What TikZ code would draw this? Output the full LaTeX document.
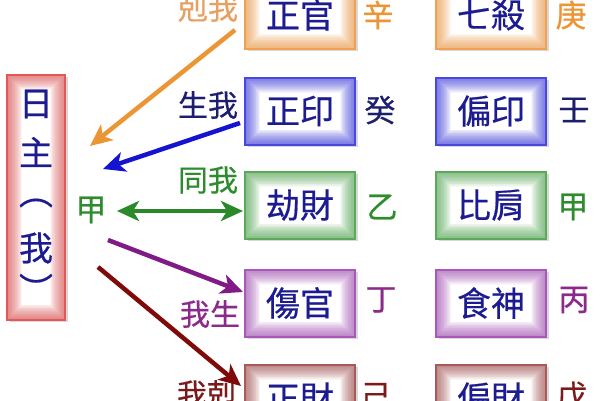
\documentclass[tikz,border=0pt]{standalone}
\usepackage{fontspec}
\setmainfont{Noto Sans CJK TC}
\newfontfamily\cjkm[FakeBold=0.5]{Noto Sans CJK TC}
\usetikzlibrary{shadows,arrows.meta}
\definecolor{cOr}{HTML}{F0A050}
\definecolor{cOrA}{HTML}{EB9535}
\definecolor{cOrT}{HTML}{E8A060}
\definecolor{cBl}{HTML}{4848E0}
\definecolor{cBlA}{HTML}{1414D0}
\definecolor{cNavy}{HTML}{1E1E6E}
\definecolor{cGr}{HTML}{5AAA5A}
\definecolor{cGrA}{HTML}{2A8A2A}
\definecolor{cGrT}{HTML}{2E8B2E}
\definecolor{cPu}{HTML}{A858B8}
\definecolor{cPuA}{HTML}{801A86}
\definecolor{cPuT}{HTML}{8B2A8B}
\definecolor{cBr}{HTML}{A85A5A}
\definecolor{cBrA}{HTML}{800A0A}
\definecolor{cBrT}{HTML}{7A1A1A}
\definecolor{cRd}{HTML}{E05858}
\definecolor{cBoxText}{HTML}{1C1C90}
\tikzset{
  glowbox/.style={draw=#1, line width=2pt, fill=white,
    drop shadow={opacity=0.3, shadow xshift=2.5pt, shadow yshift=-2.5pt},
    path picture={
      \foreach \w in {1.5,3,...,30} {
        \draw[#1, opacity=0.055, line width=\w pt]
          (path picture bounding box.south west) rectangle (path picture bounding box.north east);
      }
    }},
  tbox/.style={glowbox=#1, minimum width=110pt, minimum height=67pt,
    text=cBoxText, font=\cjkm\fontsize{34}{34}\selectfont},
  side/.style={text=#1, font=\cjkm\fontsize{31}{31}\selectfont},
  lab/.style={text=#1, font=\cjkm\fontsize{30}{30}\selectfont},
  vch/.style={text=cBoxText, font=\cjkm\fontsize{34}{34}\selectfont},
  arr/.style={draw=#1, line width=4.5pt, -{Stealth[length=22pt,width=20pt,inset=6pt]}},
  darr/.style={draw=#1, line width=4.5pt, {Stealth[length=22pt,width=20pt,inset=6pt]}-{Stealth[length=22pt,width=20pt,inset=6pt]}},
}
\begin{document}
\begin{tikzpicture}[x=1pt,y=-1pt]
\useasboundingbox (0,0) rectangle (600,400);
\fill[white] (0,0) rectangle (600,400);
\begin{scope}
\clip (0,0) rectangle (600,400);
% left box
\node[glowbox=cRd, minimum width=58pt, minimum height=245pt] (me) at (36,197) {};
\node[vch] (c1) at (36,104) {日};
\node[vch] (c2) at (36,152) {主};
\node[vch] (c3) at (36,203) {︵};
\node[vch] (c4) at (36,248) {我};
\node[vch] (c5) at (36,288) {︶};
\node[side=cGrT] (jia) at (91,210) {甲};
% boxes column 1
\node[tbox=cOr] (b11) at (300,15) {正官};
\node[tbox=cBl] (b21) at (300,111) {正印};
\node[tbox=cGr] (b31) at (300,205) {劫財};
\node[tbox=cPu] (b41) at (300,303) {傷官};
\node[tbox=cBr] (b51) at (300,398) {正財};
% boxes column 2
\node[tbox=cOr] (b12) at (491,15) {七殺};
\node[tbox=cBl] (b22) at (491,111) {偏印};
\node[tbox=cGr] (b32) at (491,205) {比肩};
\node[tbox=cPu] (b42) at (491,303) {食神};
\node[tbox=cBr] (b52) at (491,398) {偏財};
% side characters
\node[side=cOrA] (s11) at (378,15) {辛};
\node[side=cNavy] (s21) at (380,110) {癸};
\node[side=cGrT] (s31) at (382,207) {乙};
\node[side=cPuT] (s41) at (381,300) {丁};
\node[side=cBrT] (s51) at (376,396) {己};
\node[side=cOrA] (s12) at (571,15) {庚};
\node[side=cNavy] (s22) at (574,110) {壬};
\node[side=cGrT] (s32) at (573,207) {甲};
\node[side=cPuT] (s42) at (574,300) {丙};
\node[side=cBrT] (s52) at (572,396) {戊};
% labels
\node[lab=cOrT] (l1) at (208,8) {剋我};
\node[lab=cNavy] (l2) at (208,105) {生我};
\node[lab=cGrT] (l3) at (208,180) {同我};
\node[lab=cPuT] (l4) at (210,314) {我生};
\node[lab=cBrT] (l5) at (207,394) {我剋};
% arrow end points
\coordinate (o1) at (235,30);
\coordinate (o2) at (90,146);
\coordinate (u1) at (240,123);
\coordinate (u2) at (103,169);
\coordinate (g1) at (117,211);
\coordinate (g2) at (243,211);
\coordinate (p1) at (108,240);
\coordinate (p2) at (243,292);
\coordinate (r1) at (98,267);
\coordinate (r2) at (241,386);
\draw[arr=cOrA] (o1) -- (o2);
\draw[arr=cBlA] (u1) -- (u2);
\draw[darr=cGrA] (g1) -- (g2);
\draw[arr=cPuA] (p1) -- (p2);
\draw[arr=cBrA] (r1) -- (r2);
\end{scope}
\end{tikzpicture}
\end{document}
